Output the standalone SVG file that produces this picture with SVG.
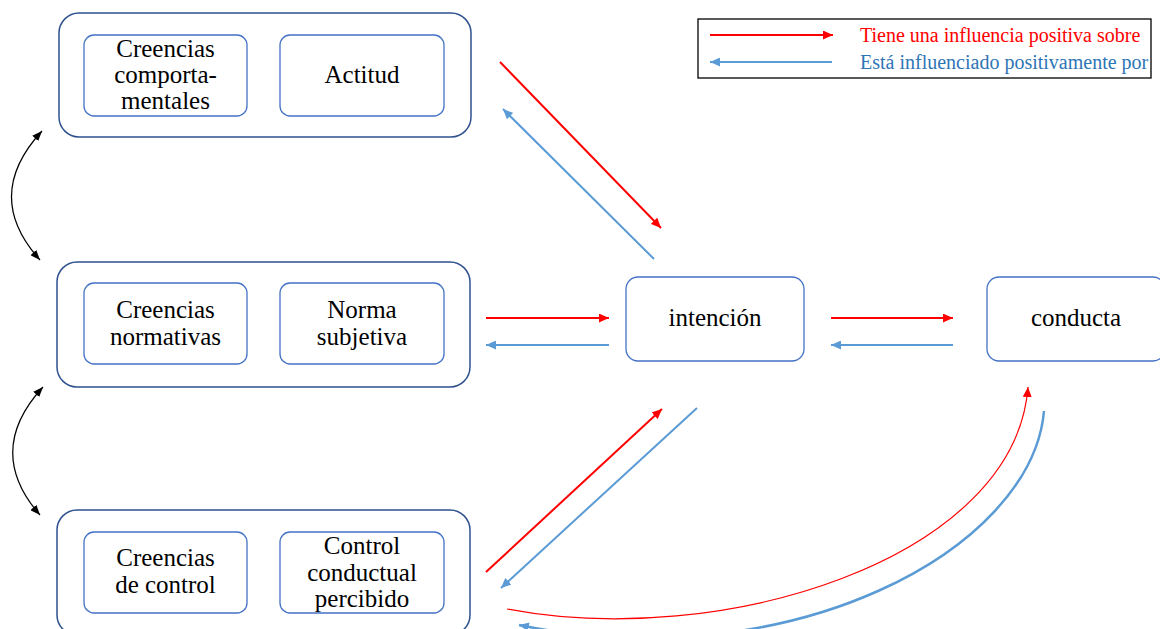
<svg xmlns="http://www.w3.org/2000/svg" width="1160" height="629" viewBox="0 0 1160 629">
<style>
.outer{fill:#fff;stroke:#2F528F;stroke-width:1.5}
.inner{fill:#fff;stroke:#4472C4;stroke-width:1.3}
.t{font-family:'Liberation Serif','Times New Roman',serif;font-size:25px;fill:#000;text-anchor:middle}
.red{stroke:#FF0000;stroke-width:2;fill:none}
.blue{stroke:#5B9BD5;stroke-width:2;fill:none}
.blk{stroke:#000;stroke-width:1.2;fill:none}
.leg{font-family:'Liberation Serif','Times New Roman',serif;font-size:20px}
</style>
<defs>
<marker id="ar" markerUnits="userSpaceOnUse" markerWidth="10" markerHeight="9" refX="10" refY="4.5" orient="auto"><path d="M0,0 L10,4.5 L0,9 z" fill="#FF0000"/></marker>
<marker id="ab" markerUnits="userSpaceOnUse" markerWidth="10" markerHeight="9" refX="10" refY="4.5" orient="auto"><path d="M0,0 L10,4.5 L0,9 z" fill="#5B9BD5"/></marker>
<marker id="ak" markerUnits="userSpaceOnUse" markerWidth="10" markerHeight="8" refX="10" refY="4" orient="auto-start-reverse"><path d="M0,0 L10,4 L0,8 z" fill="#000"/></marker>
</defs>
<rect width="1160" height="629" fill="#fff"/>

<g id="group-actitud">
<rect class="outer" x="59" y="13" width="412" height="124" rx="20"/>
<g id="creencias-comportamentales"><rect class="inner" x="84" y="35" width="163" height="81" rx="10"/>
<text class="t" x="165.5" y="57">Creencias</text><text class="t" x="165.5" y="83">comporta-</text><text class="t" x="165.5" y="109">mentales</text></g>
<g id="actitud"><rect class="inner" x="280" y="35" width="164" height="81" rx="10"/>
<text class="t" x="362" y="83">Actitud</text></g>
</g>

<g id="group-norma">
<rect class="outer" x="57" y="262" width="413" height="125" rx="20"/>
<g id="creencias-normativas"><rect class="inner" x="84" y="283" width="163" height="81" rx="10"/>
<text class="t" x="165.5" y="318">Creencias</text><text class="t" x="165.5" y="345">normativas</text></g>
<g id="norma-subjetiva"><rect class="inner" x="280" y="283" width="164" height="81" rx="10"/>
<text class="t" x="362" y="318">Norma</text><text class="t" x="362" y="345">subjetiva</text></g>
</g>

<g id="group-control">
<rect class="outer" x="57" y="510" width="413" height="125" rx="20"/>
<g id="creencias-control"><rect class="inner" x="84" y="532" width="163" height="81" rx="10"/>
<text class="t" x="165.5" y="566">Creencias</text><text class="t" x="165.5" y="593">de control</text></g>
<g id="control-percibido"><rect class="inner" x="280" y="532" width="164" height="81" rx="10"/>
<text class="t" x="362" y="554">Control</text><text class="t" x="362" y="581">conductual</text><text class="t" x="362" y="607">percibido</text></g>
</g>

<g id="intencion"><rect class="inner" x="626" y="277" width="178" height="84" rx="12"/>
<text class="t" x="715" y="326">intención</text></g>
<g id="conducta"><rect class="inner" x="987" y="277" width="178" height="84" rx="12"/>
<text class="t" x="1076" y="326">conducta</text></g>

<g id="legend">
<rect x="698" y="19" width="453" height="59" fill="none" stroke="#000" stroke-width="1.3"/>
<line class="red" x1="710" y1="35" x2="833" y2="35" marker-end="url(#ar)"/>
<line class="blue" x1="832" y1="62" x2="710" y2="62" marker-end="url(#ab)"/>
<text class="leg" x="860" y="42" fill="#FF0000">Tiene una influencia positiva sobre</text>
<text class="leg" x="860" y="69" fill="#2E75B6">Está influenciado positivamente por</text>
</g>

<g id="connectors">
<path class="blk" d="M42,131 Q-18,196 40,260" marker-start="url(#ak)" marker-end="url(#ak)"/>
<path class="blk" d="M43,387 Q-16,451 40,515" marker-start="url(#ak)" marker-end="url(#ak)"/>
<line class="red" x1="500" y1="62" x2="661" y2="228" marker-end="url(#ar)"/>
<line class="blue" x1="654" y1="259" x2="503" y2="109" marker-end="url(#ab)"/>
<line class="red" x1="486" y1="318" x2="609" y2="318" marker-end="url(#ar)"/>
<line class="blue" x1="609" y1="345" x2="486" y2="345" marker-end="url(#ab)"/>
<line class="red" x1="831" y1="318" x2="953" y2="318" marker-end="url(#ar)"/>
<line class="blue" x1="953" y1="345" x2="831" y2="345" marker-end="url(#ab)"/>
<line class="red" x1="486" y1="572" x2="662" y2="409" marker-end="url(#ar)"/>
<line class="blue" x1="697" y1="408" x2="501" y2="588" marker-end="url(#ab)"/>
<path d="M507,609 C720,650 1015,560 1028,387" fill="none" stroke="#FF0000" stroke-width="1.2" marker-end="url(#ar)"/>
<path d="M1044,411 C1032,550 790,680 519,625" fill="none" stroke="#5B9BD5" stroke-width="2.5" marker-end="url(#ab)"/>
</g>
</svg>
